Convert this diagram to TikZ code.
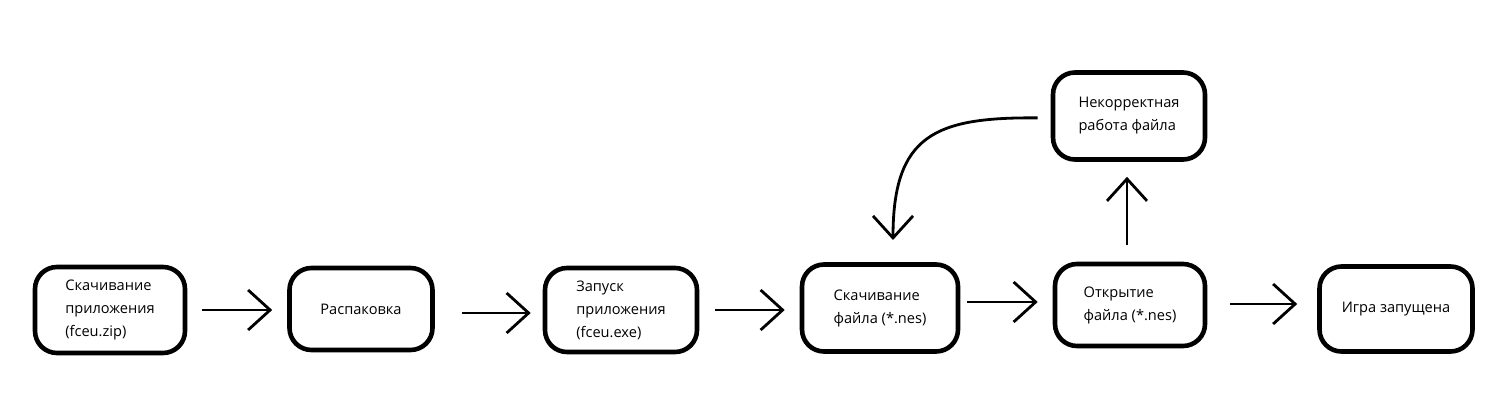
\documentclass[tikz,border=0pt]{standalone}
\usepackage{fontspec}
\setmainfont{Open Sans}
\usetikzlibrary{arrows.meta}
\tikzset{
  box/.style={draw, line width=2.3pt, rounded corners=11pt, align=left,
    font=\fontsize{7.3pt}{11.5pt}\selectfont, inner sep=0pt},
  flow/.style={line width=1.4pt, -{Straight Barb[length=11pt, width=20pt]}}
}
\begin{document}
\begin{tikzpicture}[x=0.5pt, y=-0.5pt]
\useasboundingbox (0,0) rectangle (1497,417);
\node[box, minimum width=75pt, minimum height=43pt] (b1) at (110,310) {Скачивание\\приложения\\(fceu.zip)};
\node[box, minimum width=71.5pt, minimum height=41pt] (b2) at (361,309) {Распаковка};
\node[box, minimum width=76pt, minimum height=42pt] (b3) at (621,310) {Запуск\\приложения\\(fceu.exe)};
\node[box, minimum width=78pt, minimum height=43.5pt] (b4) at (880,308) {Скачивание\\файла (*.nes)};
\node[box, minimum width=75pt, minimum height=41pt] (b5) at (1130,305) {Открытие\\файла (*.nes)};
\node[box, minimum width=76.5pt, minimum height=42.5pt] (b6) at (1396,309) {Игра запущена};
\node[box, minimum width=76pt, minimum height=43.5pt] (top) at (1129,116) {Некорректная\\работа файла};
\coordinate (c) at (893,240);
\draw[flow, shorten <=7.5pt, shorten >=7.5pt] (b1.east) -- (b1.east -| b2.west);
\draw[flow, shorten <=13.5pt, shorten >=6pt] (b2.east |- 0,313) coordinate (a2) -- (a2 -| b3.west);
\draw[flow, shorten <=8pt, shorten >=7.5pt] (b3.east) -- (b3.east -| b4.west);
\draw[flow, shorten <=3.5pt, shorten >=7.5pt] (b4.east |- 0,302) coordinate (a4) -- (a4 -| b5.west);
\draw[flow, shorten <=11.5pt, shorten >=10pt] (b5.east |- 0,304) coordinate (a5) -- (a5 -| b6.west);
\draw[flow, shorten <=8.5pt, shorten >=7.5pt] (1127,0 |- b5.north) coordinate (a6) -- (a6 |- top.south);
\draw[flow, shorten <=6.5pt] (top.west |- 0,118) .. controls (935,117) and (893,135) .. (c);
\end{tikzpicture}
\end{document}
